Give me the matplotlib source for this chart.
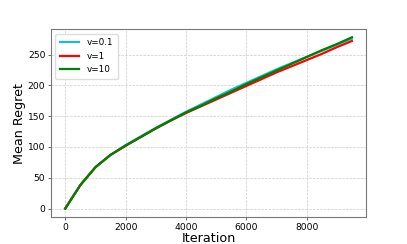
import matplotlib
matplotlib.use("Agg")
import matplotlib.pyplot as plt

iterations = [0, 500, 1000, 1500, 2000, 2500, 3000, 3500, 4000, 4500, 5000, 5500,
              6000, 6500, 7000, 7500, 8000, 8500, 9000, 9500]
regret_v01 = [0, 38, 67, 87, 103, 117, 131, 144, 157, 169, 181, 193,
              204, 215, 226, 236, 246, 256, 266, 276]
regret_v1 = [0, 38, 67, 87, 102, 116, 130, 143, 155, 166, 177, 188,
             199, 210, 221, 231, 241, 251, 262, 272]
regret_v10 = [0, 38, 67, 87, 102, 116, 130, 143, 156, 167, 179, 190,
              202, 213, 224, 235, 246, 257, 267, 278]
labels = ["v=0.1", "v=1", "v=10"]
colors = ["#17becf", "red", "green"]

fig = plt.figure(figsize=(4.07, 2.44), dpi=100)
ax = fig.add_subplot(111)
for ys, lab, c in zip([regret_v01, regret_v1, regret_v10], labels, colors):
    ax.plot(iterations, ys, color=c, lw=1.6, label=lab)

ax.set_xlabel("Iteration", fontsize=9.2, labelpad=0)
ax.set_ylabel("Mean Regret", fontsize=9.2, labelpad=1)
ax.tick_params(labelsize=6.6, length=2.5, width=0.6, pad=1.5, color="#555555")
ax.set_xticks([0, 2000, 4000, 6000, 8000])
ax.set_yticks([0, 50, 100, 150, 200, 250])
ax.set_xlim(-475, 9975)
ax.set_ylim(-14, 291)
ax.grid(True, linestyle="--", color="#cccccc", linewidth=0.5)
for s in ax.spines.values():
    s.set_color("#777777")
    s.set_linewidth(0.8)
ax.legend(loc="upper left", fontsize=6.4, handlelength=2.2, framealpha=1,
          edgecolor="#dddddd", borderpad=0.5, labelspacing=0.5)
fig.savefig("out.png", dpi=100)
